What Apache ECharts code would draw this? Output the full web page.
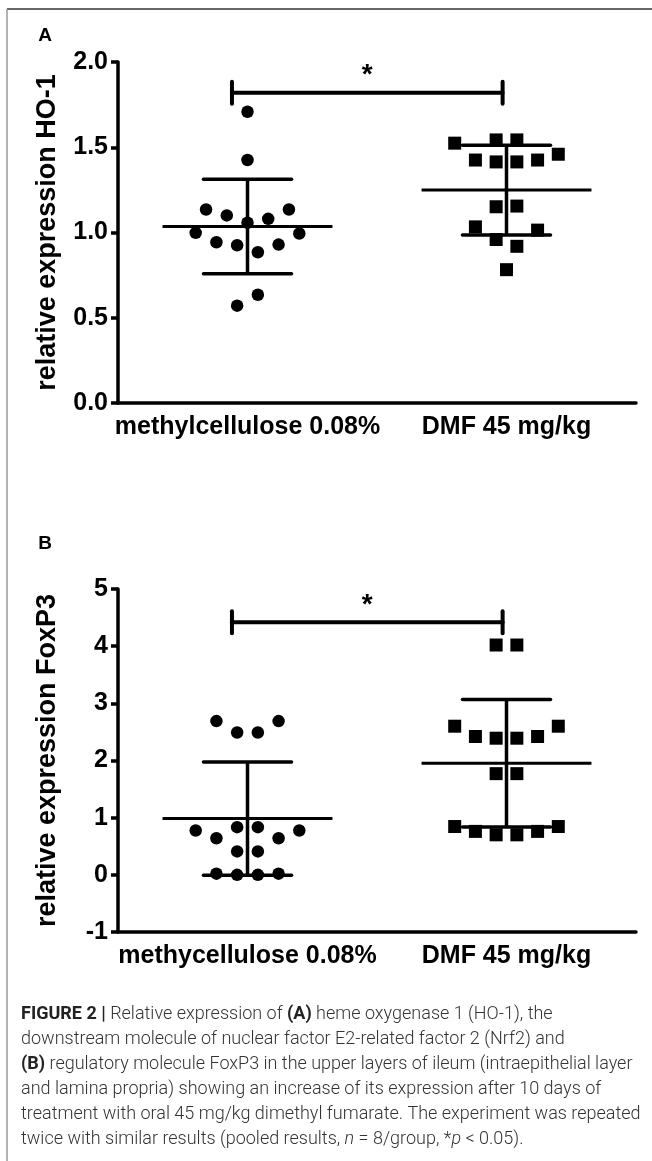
<!DOCTYPE html>
<html>
<head>
<meta charset="utf-8">
<style>
  html, body { margin: 0; padding: 0; background: #fff; }
  #main { width: 652px; height: 1161px; }
</style>
<script src="https://cdn.jsdelivr.net/npm/echarts@6/dist/echarts.min.js"></script>
</head>
<body>
<div id="main"></div>
<script>
// categories
const groupsA = ['methylcellulose 0.08%', 'DMF 45 mg/kg'];
const groupsB = ['methycellulose 0.08%', 'DMF 45 mg/kg'];

// panel A - relative expression HO-1
const hoCtrl = [1.708, 1.425, 1.135, 1.135, 1.10, 1.08, 1.057, 0.998, 0.994, 0.943, 0.925, 0.929, 0.884, 0.635, 0.571];
const hoCtrlSlot = [0, 0, -4, 4, -2, 2, 0, -5, 5, -3, -1, 3, 1, 1, -1];
const hoDmf = [1.524, 1.543, 1.543, 1.459, 1.425, 1.414, 1.414, 1.425, 1.151, 1.155, 1.033, 1.014, 0.959, 0.919, 0.782];
const hoDmfSlot = [-5, -1, 1, 5, -3, -1, 1, 3, -1, 1, -3, 3, -1, 1, 0];
const hoMean = [1.035, 1.249];
const hoSd = [0.277, 0.263];

// panel B - relative expression FoxP3
const foxCtrl = [2.69, 2.69, 2.49, 2.49, 0.834, 0.834, 0.775, 0.775, 0.64, 0.64, 0.41, 0.41, 0.02, 0.0, 0.0, 0.02];
const foxCtrlSlot = [-3, 3, -1, 1, -1, 1, -5, 5, -3, 3, -1, 1, -3, -1, 1, 3];
const foxDmf = [4.02, 4.02, 2.60, 2.60, 2.42, 2.39, 2.39, 2.42, 1.77, 1.77, 0.845, 0.845, 0.76, 0.76, 0.70, 0.70];
const foxDmfSlot = [-1, 1, -5, 5, -3, -1, 1, 3, -1, 1, -5, 5, -3, 3, -1, 1];
const foxMean = [0.984, 1.95];
const foxSd = [0.99, 1.115];

// significance bracket height (*p < 0.05)
const sigA = 1.82;
const sigB = 4.42;

const captionLines = [
  '{b|FIGURE 2 |} Relative expression of {b|(A)} heme oxygenase 1 (HO-1), the',
  'downstream molecule of nuclear factor E2-related factor 2 (Nrf2) and',
  '{b|(B)} regulatory molecule FoxP3 in the upper layers of ileum (intraepithelial layer',
  'and lamina propria) showing an increase of its expression after 10 days of',
  'treatment with oral 45 mg/kg dimethyl fumarate. The experiment was repeated',
  'twice with similar results (pooled results, {i|n} = 8/group, *{i|p} < 0.05).'
];

const FONT = '"Liberation Sans", Arial, sans-serif';
const SLOT = 0.04; // 点之间的水平间距 (category units)

function catAxis(data, gridIndex) {
  return {
    type: 'category', gridIndex: gridIndex, data: data, boundaryGap: true,
    axisLine: { onZero: false, lineStyle: { color: '#000', width: 3.5 } },
    axisTick: { alignWithLabel: true, length: 8, lineStyle: { color: '#000', width: 3.5 } },
    axisLabel: { interval: 0, color: '#000', fontFamily: FONT, fontWeight: 'bold', fontSize: 25, margin: 12 },
    splitLine: { show: false }
  };
}
function hiddenX(gridIndex) {
  return { type: 'value', gridIndex: gridIndex, min: 0.5, max: 2.5, show: false, splitLine: { show: false } };
}
function yAxis(gridIndex, name, min, max, interval, digits) {
  return {
    type: 'value', gridIndex: gridIndex, min: min, max: max, interval: interval,
    name: name, nameLocation: 'middle', nameRotate: 90, nameGap: 57,
    nameTextStyle: { color: '#000', fontFamily: FONT, fontWeight: 'bold', fontSize: 27 },
    axisLine: { show: true, onZero: false, lineStyle: { color: '#000', width: 3.5 } },
    axisTick: { show: true, length: 7, lineStyle: { color: '#000', width: 3.5 } },
    axisLabel: { color: '#000', fontFamily: FONT, fontWeight: 'bold', fontSize: 25, margin: 10,
      formatter: v => v.toFixed(digits) },
    splitLine: { show: false }
  };
}

function dotSeries(values, slots, cat, symbol, xi, yi) {
  return {
    type: 'scatter', xAxisIndex: xi, yAxisIndex: yi, silent: true, z: 3,
    symbol: symbol, symbolSize: symbol === 'rect' ? 13 : 12.5,
    itemStyle: { color: '#000', opacity: 1 },
    data: values.map((v, i) => [cat + slots[i] * SLOT, v])
  };
}

// mean ± SD
function barSeries(mean, sd, xi, yi) {
  return {
    type: 'custom', xAxisIndex: xi, yAxisIndex: yi, silent: true, z: 4, clip: false,
    data: mean.map((m, i) => [i + 1, m, sd[i]]),
    encode: { x: 0, y: 1 },
    renderItem: (params, api) => {
      const x = api.value(0), m = api.value(1), s = api.value(2);
      const unit = api.size([1, 0])[0];
      const c = api.coord([x, m]), hi = api.coord([x, m + s]), lo = api.coord([x, m - s]);
      const mh = unit * 0.328, ch = unit * 0.17;
      const st = { stroke: '#000', lineWidth: 3.5 };
      return {
        type: 'group', children: [
          { type: 'line', shape: { x1: c[0] - mh, y1: c[1], x2: c[0] + mh, y2: c[1] }, style: { stroke: '#000', lineWidth: 3 } },
          { type: 'line', shape: { x1: c[0], y1: hi[1], x2: c[0], y2: lo[1] }, style: st },
          { type: 'line', shape: { x1: c[0] - ch, y1: hi[1], x2: c[0] + ch, y2: hi[1] }, style: { stroke: '#000', lineWidth: 3.5, lineCap: 'round' } },
          { type: 'line', shape: { x1: c[0] - ch, y1: lo[1], x2: c[0] + ch, y2: lo[1] }, style: { stroke: '#000', lineWidth: 3.5, lineCap: 'round' } }
        ]
      };
    }
  };
}

// 显著性标记
function sigSeries(y, xi, yi) {
  return {
    type: 'custom', xAxisIndex: xi, yAxisIndex: yi, silent: true, z: 4, clip: false,
    data: [[1, y, 2]],
    encode: { x: 0, y: 1 },
    renderItem: (params, api) => {
      const l = api.coord([api.value(0) - 0.06, api.value(1)]);
      const r = api.coord([api.value(2) - 0.015, api.value(1)]);
      const st = { stroke: '#000', lineWidth: 4, lineCap: 'round' };
      return {
        type: 'group', children: [
          { type: 'line', shape: { x1: l[0], y1: l[1], x2: r[0], y2: r[1] }, style: st },
          { type: 'line', shape: { x1: l[0], y1: l[1] - 11, x2: l[0], y2: l[1] + 11 }, style: st },
          { type: 'line', shape: { x1: r[0], y1: r[1] - 11, x2: r[0], y2: r[1] + 11 }, style: st },
          { type: 'text', x: (l[0] + r[0]) / 2, y: l[1] - 17,
            style: { text: '*', fill: '#000', font: 'bold 28px ' + FONT, align: 'center', verticalAlign: 'middle' } }
        ]
      };
    }
  };
}

const capFont = 'Roboto, "Liberation Sans", sans-serif';
const capSize = 18;

const option = {
  animation: false,
  backgroundColor: '#fff',
  grid: [
    { left: 118, top: 62, width: 518, height: 341 },
    { left: 118, top: 589, width: 518, height: 343 }
  ],
  xAxis: [catAxis(groupsA, 0), hiddenX(0), catAxis(groupsB, 1), hiddenX(1)],
  yAxis: [
    yAxis(0, 'relative expression HO-1', 0, 2, 0.5, 1),
    yAxis(1, 'relative expression FoxP3', -1, 5, 1, 0)
  ],
  series: [
    dotSeries(hoCtrl, hoCtrlSlot, 1, 'circle', 1, 0),
    dotSeries(hoDmf, hoDmfSlot, 2, 'rect', 1, 0),
    barSeries(hoMean, hoSd, 1, 0),
    sigSeries(sigA, 1, 0),
    dotSeries(foxCtrl, foxCtrlSlot, 1, 'circle', 3, 1),
    dotSeries(foxDmf, foxDmfSlot, 2, 'rect', 3, 1),
    barSeries(foxMean, foxSd, 3, 1),
    sigSeries(sigB, 3, 1)
  ],
  graphic: [
    { type: 'line', shape: { x1: 7, y1: 9, x2: 652, y2: 9 }, style: { stroke: '#666', lineWidth: 2 } },
    { type: 'line', shape: { x1: 7, y1: 9, x2: 7, y2: 1161 }, style: { stroke: '#999', lineWidth: 1.5 } },
    { type: 'text', x: 45, y: 36, style: { text: 'A', fill: '#000', font: 'bold 19px ' + FONT, align: 'center', verticalAlign: 'middle' } },
    { type: 'text', x: 45, y: 544, style: { text: 'B', fill: '#000', font: 'bold 19px ' + FONT, align: 'center', verticalAlign: 'middle' } },
    {
      type: 'text', x: 21, y: 1002,
      style: {
        text: captionLines.join('\n'),
        fill: '#333', fontFamily: capFont, fontSize: capSize, fontWeight: 300, lineHeight: 25,
        rich: {
          b: { fill: '#222', fontFamily: capFont, fontSize: capSize, fontWeight: 'bold', lineHeight: 25 },
          i: { fill: '#333', fontFamily: capFont, fontSize: capSize, fontWeight: 300, fontStyle: 'italic', lineHeight: 25 }
        }
      }
    }
  ]
};

const myChart = echarts.init(document.getElementById('main'), null, { renderer: 'canvas' });
myChart.setOption(option);
</script>
</body>
</html>
